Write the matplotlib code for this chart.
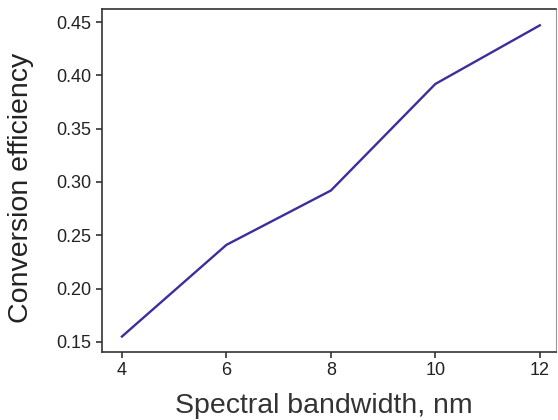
import matplotlib
matplotlib.use("Agg")
import matplotlib.pyplot as plt

plt.rcParams['font.family'] = ['Liberation Sans', 'DejaVu Sans']

bandwidth = [4, 6, 8, 10, 12]
efficiency = [0.155, 0.241, 0.292, 0.392, 0.447]

fig = plt.figure(figsize=(5.58, 4.2), dpi=100)
ax = fig.add_axes([0.183, 0.162, 0.814, 0.817])

ax.plot(bandwidth, efficiency, color='#3b2f9c', lw=1.7)

ax.set_xlim(3.62, 12.316)
ax.set_ylim(0.1405, 0.4625)
ax.set_xticks([4, 6, 8, 10, 12])
ax.set_yticks([0.15, 0.20, 0.25, 0.30, 0.35, 0.40, 0.45])
ax.set_yticklabels(['0.15', '0.20', '0.25', '0.30', '0.35', '0.40', '0.45'])

for s in ax.spines.values():
    s.set_color('#333333')
    s.set_linewidth(1.2)
ax.spines['right'].set_color('#999999')
ax.spines['right'].set_linewidth(0.8)

ax.tick_params(colors='#333333', labelsize=13, length=4, width=1.2, labelcolor='#222222')
ax.set_xlabel('Spectral bandwidth, nm', fontsize=20.5, color='#333333', labelpad=10)
ax.set_ylabel('Conversion efficiency', fontsize=20.5, color='#222222', labelpad=16)
# labels sit a little off-centre in the original
ax.xaxis.label.set_x(0.487)
ax.yaxis.label.set_y(0.478)

fig.savefig('out.png', dpi=100)
